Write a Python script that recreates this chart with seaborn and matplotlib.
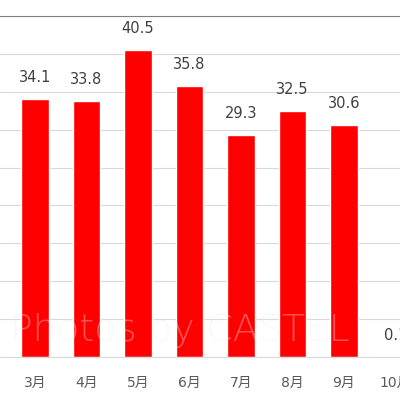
import matplotlib
matplotlib.use('Agg')
import matplotlib.pyplot as plt
import seaborn as sns
import pandas as pd

months = ['2月', '3月', '4月', '5月', '6月', '7月', '8月', '9月', '10月']
values = [34.4, 34.1, 33.8, 40.5, 35.8, 29.3, 32.5, 30.6, 0.1]

sns.set_style('white')
plt.rcParams['font.family'] = ['DejaVu Sans', 'Noto Sans CJK JP']

df = pd.DataFrame({'month': months, 'value': values})

fig = plt.figure(figsize=(4, 4), dpi=100)
ax = fig.add_axes([0, 0.1075, 1, 0.8525])
sns.barplot(data=df, x='month', y='value', color='#ff0000', saturation=1,
            width=0.54, ax=ax)

ax.set_ylim(0, 45)
ax.set_xlim(0.32, 8.09)
ax.set_yticks(range(0, 46, 5))
ax.yaxis.grid(True, color='#d9d9d9', lw=0.8)
ax.set_axisbelow(True)
ax.tick_params(left=False, labelleft=False, bottom=False, labelsize=10,
               colors='#595959', pad=10)
for s in ['left', 'right']:
    ax.spines[s].set_visible(False)
ax.spines['top'].set_color('#7f7f7f')
ax.spines['bottom'].set_color('#d9d9d9')
ax.set_xlabel('')
ax.set_ylabel('')

for i, v in enumerate(values):
    ax.text(i, v + 1.8, f'{v:.1f}', ha='center', va='bottom', fontsize=10.5,
            color='#404040', clip_on=False)

fig.text(0.45, 0.175, 'Photos by CASTEL', ha='center', va='center',
         fontsize=27, color='#f0f0f0', alpha=0.35, fontweight='light')

fig.savefig('out.png', dpi=100)
